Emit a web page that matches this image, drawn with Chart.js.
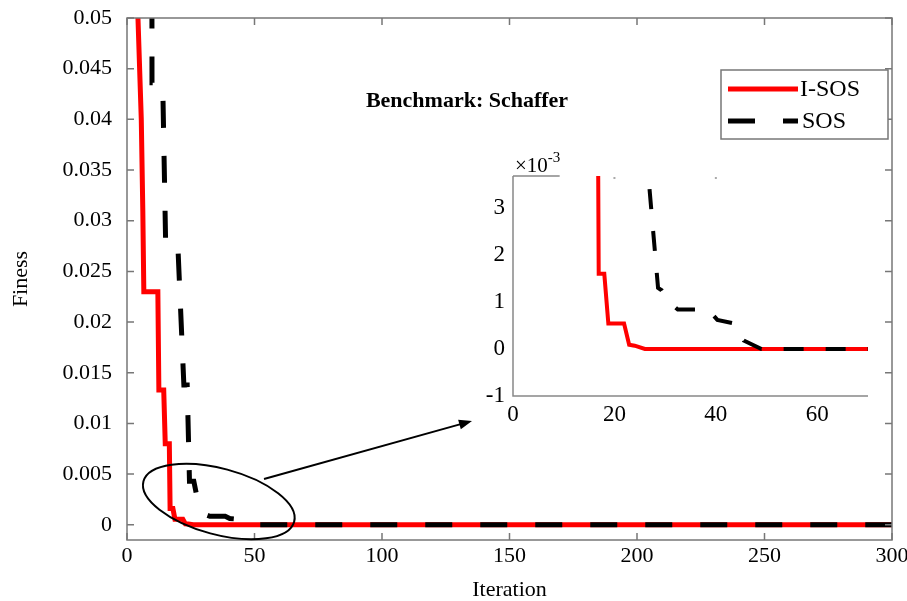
<!DOCTYPE html>
<html>
<head>
<meta charset="utf-8">
<script src="https://cdn.jsdelivr.net/npm/chart.js@4.4.0/dist/chart.umd.min.js"></script>
<style>
  html, body { margin: 0; padding: 0; background: #fff; }
  #wrap { position: relative; width: 907px; height: 601px; }
  #main { position: absolute; left: 0; top: 0; }
  #inset { position: absolute; left: 455px; top: 150px; }
</style>
</head>
<body>
<div id="wrap">
  <canvas id="main" width="907" height="601"></canvas>
  <canvas id="inset" width="440" height="290"></canvas>
</div>
<script>
// curves (iteration, fitness)
const isosIter = [1, 3, 4.3, 5.6, 6.2, 6.6, 12.1, 12.5, 14.4, 15, 16.6, 16.9, 18, 18.8, 21.9, 22.9, 24, 26, 300];
const isosFit  = [0.1, 0.07, 0.05, 0.04, 0.031, 0.023, 0.023, 0.0133, 0.0133, 0.008, 0.008, 0.0016, 0.0016, 0.00054, 0.00054, 0.00009, 0.00007, 0, 0];

const sosIter = [1, 9.6, 9.8, 14, 15.2, 20, 22.3, 23.6, 24.5, 26.2, 28.6, 29.3, 30.5, 32.5, 38.5, 40.3, 43.8, 45.5, 49, 300];
const sosFit  = [0.12, 0.12, 0.0436, 0.0436, 0.0272, 0.0272, 0.0138, 0.0138, 0.0043, 0.0043, 0.0013, 0.00125, 0.00103, 0.00084, 0.00084, 0.00062, 0.00054, 0.00018, 0, 0];

const xTicks = [0, 50, 100, 150, 200, 250, 300];
const yTicks = [0, 0.005, 0.01, 0.015, 0.02, 0.025, 0.03, 0.035, 0.04, 0.045, 0.05];
const yTickLabels = ['0', '0.005', '0.01', '0.015', '0.02', '0.025', '0.03', '0.035', '0.04', '0.045', '0.05'];

const insetXTicks = [0, 20, 40, 60];
const insetYTicks = [-0.001, 0, 0.001, 0.002, 0.003];
const insetYTickLabels = ['-1', '0', '1', '2', '3'];

const seriesNames = ['I-SOS', 'SOS'];

const FONT = "'Liberation Serif', 'Times New Roman', serif";
const toPts = (xs, ys) => xs.map((x, i) => ({ x: x, y: ys[i] }));

function makeDatasets(width, dash) {
  return [
    { label: seriesNames[1], data: toPts(sosIter, sosFit), borderColor: '#000', borderWidth: width,
      borderDash: dash, borderCapStyle: 'butt', pointRadius: 0, tension: 0, clip: 0 },
    { label: seriesNames[0], data: toPts(isosIter, isosFit), borderColor: '#ff0000', borderWidth: width,
      pointRadius: 0, tension: 0, clip: 0 }
  ];
}

// keep the plot box where the layout padding puts it (labels may overhang)
function fixX(h) {
  return s => { s.height = h; s.paddingLeft = 0; s.paddingRight = 0; };
}
function fixY(w) {
  return s => { s.width = w; s.paddingTop = 0; s.paddingBottom = 0; };
}

// box with inward ticks, legend, title and the zoom marker
const mainDecor = {
  id: 'mainDecor',
  afterDraw(chart) {
    const ctx = chart.ctx;
    const a = chart.chartArea;
    const xs = chart.scales.x, ys = chart.scales.y;
    ctx.save();
    ctx.strokeStyle = '#777';
    ctx.lineWidth = 1.5;
    ctx.strokeRect(a.left, a.top, a.right - a.left, a.bottom - a.top);
    ctx.beginPath();
    xTicks.forEach(v => {
      const p = xs.getPixelForValue(v);
      ctx.moveTo(p, a.bottom); ctx.lineTo(p, a.bottom - 7);
      ctx.moveTo(p, a.top); ctx.lineTo(p, a.top + 7);
    });
    yTicks.forEach(v => {
      const p = ys.getPixelForValue(v);
      ctx.moveTo(a.left, p); ctx.lineTo(a.left + 7, p);
      ctx.moveTo(a.right, p); ctx.lineTo(a.right - 7, p);
    });
    ctx.stroke();

    // title
    ctx.fillStyle = '#000';
    ctx.font = 'bold 22px ' + FONT;
    ctx.textAlign = 'center';
    ctx.textBaseline = 'middle';
    ctx.fillText('Benchmark: Schaffer', 467, 101);

    // legend
    ctx.fillStyle = '#fff';
    ctx.fillRect(721, 70, 167, 69);
    ctx.strokeStyle = '#777';
    ctx.lineWidth = 1.5;
    ctx.strokeRect(721, 70, 167, 69);
    ctx.lineWidth = 5;
    ctx.lineCap = 'butt';
    ctx.strokeStyle = '#ff0000';
    ctx.beginPath(); ctx.moveTo(728, 89); ctx.lineTo(798, 89); ctx.stroke();
    ctx.strokeStyle = '#000';
    ctx.beginPath(); ctx.moveTo(728, 121); ctx.lineTo(755, 121); ctx.moveTo(783, 121); ctx.lineTo(798, 121); ctx.stroke();
    ctx.fillStyle = '#000';
    ctx.font = '24px ' + FONT;
    ctx.textAlign = 'left';
    ctx.fillText(seriesNames[0], 800, 90);
    ctx.fillText(seriesNames[1], 802, 122);

    // ellipse around the tail of both curves
    const cx = xs.getPixelForValue(36), cy = ys.getPixelForValue(0.0023);
    ctx.strokeStyle = '#000';
    ctx.lineWidth = 2;
    ctx.beginPath();
    ctx.ellipse(cx, cy, 78, 33, 15 * Math.PI / 180, 0, Math.PI * 2);
    ctx.stroke();

    // arrow to the inset
    const x0 = 264, y0 = 479, x1 = 472, y1 = 421;
    const ang = Math.atan2(y1 - y0, x1 - x0);
    ctx.beginPath(); ctx.moveTo(x0, y0); ctx.lineTo(x1 - 8 * Math.cos(ang), y1 - 8 * Math.sin(ang)); ctx.stroke();
    ctx.beginPath();
    ctx.moveTo(x1, y1);
    ctx.lineTo(x1 - 13 * Math.cos(ang) + 5 * Math.sin(ang), y1 - 13 * Math.sin(ang) - 5 * Math.cos(ang));
    ctx.lineTo(x1 - 13 * Math.cos(ang) - 5 * Math.sin(ang), y1 - 13 * Math.sin(ang) + 5 * Math.cos(ang));
    ctx.closePath();
    ctx.fill();
    ctx.restore();
  }
};

new Chart(document.getElementById('main'), {
  type: 'line',
  data: { datasets: makeDatasets(5, [27, 28]) },
  options: {
    responsive: false,
    animation: false,
    events: [],
    layout: { autoPadding: false, padding: { left: 0, top: 18, right: 15, bottom: 0 } },
    plugins: { legend: { display: false }, tooltip: { enabled: false } },
    scales: {
      x: {
        type: 'linear', min: 0, max: 300,
        afterBuildTicks: s => { s.ticks = xTicks.map(v => ({ value: v })); },
        afterFit: fixX(61),
        grid: { display: false, drawTicks: false },
        border: { display: false },
        ticks: { color: '#000', font: { family: FONT, size: 22 }, padding: 3, maxRotation: 0 },
        title: { display: true, text: 'Iteration', color: '#000', font: { family: FONT, size: 22 }, padding: { top: 0, bottom: -2 } }
      },
      y: {
        type: 'linear', min: -0.0015, max: 0.05,
        afterBuildTicks: s => { s.ticks = yTicks.map(v => ({ value: v })); },
        afterFit: fixY(127),
        grid: { display: false, drawTicks: false },
        border: { display: false },
        ticks: { color: '#000', font: { family: FONT, size: 22 }, padding: 15,
                 callback: (v, i) => yTickLabels[i] },
        title: { display: true, text: 'Finess', color: '#000', font: { family: FONT, size: 22 }, padding: { top: 8, bottom: 0 } }
      }
    }
  },
  plugins: [mainDecor]
});

// inset axes: left and bottom lines, a torn top edge and the exponent
const insetDecor = {
  id: 'insetDecor',
  afterDraw(chart) {
    const ctx = chart.ctx;
    const a = chart.chartArea;
    const xs = chart.scales.x;
    ctx.save();
    ctx.strokeStyle = '#888';
    ctx.lineWidth = 1.5;
    ctx.beginPath();
    ctx.moveTo(a.left, a.top); ctx.lineTo(a.left, a.bottom); ctx.lineTo(a.right, a.bottom);
    ctx.moveTo(a.left, a.top); ctx.lineTo(xs.getPixelForValue(9.2), a.top);
    ctx.stroke();
    ctx.fillStyle = '#aaa';
    [20, 40].forEach(v => ctx.fillRect(xs.getPixelForValue(v) - 1, a.top + 1, 2, 2));
    ctx.fillStyle = '#000';
    ctx.textBaseline = 'middle';
    ctx.textAlign = 'left';
    ctx.font = '21px ' + FONT;
    ctx.fillText('\u00d710', a.left + 2, a.top - 10);
    const w = ctx.measureText('\u00d710').width;
    ctx.font = '15px ' + FONT;
    ctx.fillText('-3', a.left + 2 + w, a.top - 18);
    ctx.restore();
  }
};

new Chart(document.getElementById('inset'), {
  type: 'line',
  data: { datasets: makeDatasets(4, [20, 22]) },
  options: {
    responsive: false,
    animation: false,
    events: [],
    layout: { autoPadding: false, padding: { left: 0, top: 26, right: 27, bottom: 0 } },
    plugins: { legend: { display: false }, tooltip: { enabled: false } },
    scales: {
      x: {
        type: 'linear', min: 0, max: 70,
        afterBuildTicks: s => { s.ticks = insetXTicks.map(v => ({ value: v })); },
        afterFit: fixX(44),
        grid: { display: false, drawTicks: false },
        border: { display: false },
        ticks: { color: '#000', font: { family: FONT, size: 23 }, padding: 5, maxRotation: 0 }
      },
      y: {
        type: 'linear', min: -0.001, max: 0.00368,
        afterBuildTicks: s => { s.ticks = insetYTicks.map(v => ({ value: v })); },
        afterFit: fixY(58),
        grid: { display: false, drawTicks: false },
        border: { display: false },
        ticks: { color: '#000', font: { family: FONT, size: 23 }, padding: 8,
                 callback: (v, i) => insetYTickLabels[i] }
      }
    }
  },
  plugins: [insetDecor]
});
</script>
</body>
</html>
